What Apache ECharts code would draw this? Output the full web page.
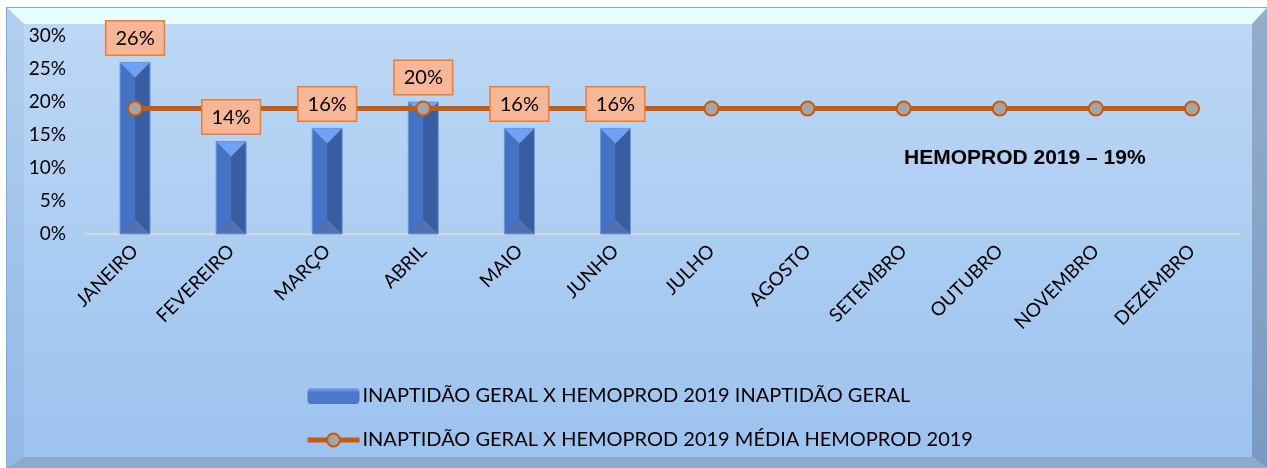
<!DOCTYPE html>
<html>
<head>
<meta charset="utf-8">
<title>Inaptidão geral x Hemoprod 2019</title>
<script src="https://cdn.jsdelivr.net/npm/echarts@6/dist/echarts.min.js"></script>
<style>
  html, body { margin: 0; padding: 0; background: #ffffff; }
  #chart { width: 1267px; height: 468px; }
</style>
</head>
<body>
<div id="chart"></div>
<script>
// dados
var meses = ['JANEIRO', 'FEVEREIRO', 'MARÇO', 'ABRIL', 'MAIO', 'JUNHO', 'JULHO', 'AGOSTO', 'SETEMBRO', 'OUTUBRO', 'NOVEMBRO', 'DEZEMBRO'];
var inaptidao = [26, 14, 16, 20, 16, 16, null, null, null, null, null, null];
var mediaHemoprod = [19, 19, 19, 19, 19, 19, 19, 19, 19, 19, 19, 19];
var nomeBarra = 'INAPTIDÃO GERAL X HEMOPROD 2019 INAPTIDÃO GERAL';
var nomeLinha = 'INAPTIDÃO GERAL X HEMOPROD 2019 MÉDIA HEMOPROD 2019';
var textoMedia = 'HEMOPROD 2019 – 19%';

var W = 1267, H = 468;
var fonte = 'Lato, "Open Sans", sans-serif';

var chart = echarts.init(document.getElementById('chart'));

// moldura chanfrada (estilo Excel)
var moldura = [
  { type: 'rect', shape: { x: 6, y: 7, width: W - 6, height: H - 7 }, style: { fill: '#7ea9db' }, silent: true },
  { type: 'rect', shape: { x: 7, y: 8, width: W - 7, height: H - 8 },
    style: { fill: new echarts.graphic.LinearGradient(0, 0, 0, 1, [{ offset: 0, color: '#bdd8f5' }, { offset: 1, color: '#9cc2ef' }]) }, silent: true },
  { type: 'polygon', shape: { points: [[7, 8], [W, 8], [1252, 24], [24, 24]] }, style: { fill: '#e8fdff' }, silent: true },
  { type: 'polygon', shape: { points: [[7, 8], [24, 24], [24, 457], [7, H]] },
    style: { fill: new echarts.graphic.LinearGradient(0, 0, 0, 1, [{ offset: 0, color: '#b2cfee' }, { offset: 1, color: '#93b9e6' }]) }, silent: true },
  { type: 'polygon', shape: { points: [[W, 8], [1252, 24], [1252, 457], [W, H]] },
    style: { fill: new echarts.graphic.LinearGradient(0, 0, 0, 1, [{ offset: 0, color: '#93adcb' }, { offset: 1, color: '#7b9ac2' }]) }, silent: true },
  { type: 'polygon', shape: { points: [[7, H], [24, 457], [1252, 457], [W, H]] }, style: { fill: '#8eaacb' }, silent: true },
  { type: 'text', left: 904, top: 148, style: { text: textoMedia, font: 'bold 21px "Liberation Sans", Arial, sans-serif', fill: '#000' }, z: 10 }
];

var corBarra = new echarts.graphic.LinearGradient(0, 0, 1, 0, [
  { offset: 0, color: '#4472c4' }, { offset: 0.5, color: '#4472c4' },
  { offset: 0.5, color: '#385da1' }, { offset: 1, color: '#385da1' }
]);

var option = {
  animation: false,
  graphic: moldura,
  grid: { left: 87, right: 27, top: 36, bottom: 234, containLabel: false },
  legend: {
    orient: 'vertical',
    left: 300,
    top: 381,
    itemWidth: 52,
    itemHeight: 16,
    itemGap: 24,
    data: [
      { name: nomeBarra, itemStyle: { color: new echarts.graphic.LinearGradient(0, 0, 0, 1, [{ offset: 0, color: '#7aa6f2' }, { offset: 0.3, color: '#4d77c6' }, { offset: 1, color: '#4d77c6' }]) } },
      { name: nomeLinha, lineStyle: { width: 5 } }
    ],
    textStyle: { fontFamily: fonte, fontSize: 20, color: '#000', padding: [0, 0, 0, -2] }
  },
  xAxis: {
    type: 'category',
    data: meses,
    axisLine: { lineStyle: { color: '#d9d9d9', width: 2 } },
    axisTick: { show: false },
    axisLabel: { rotate: 45, interval: 0, margin: 14, fontFamily: fonte, fontSize: 19, color: '#000' }
  },
  yAxis: {
    type: 'value',
    min: 0,
    max: 30,
    interval: 5,
    axisLine: { show: false },
    axisTick: { show: false },
    splitLine: { show: false },
    axisLabel: { formatter: '{value}%', margin: 21, fontFamily: fonte, fontSize: 19, color: '#000' }
  },
  series: [
    {
      name: nomeBarra,
      type: 'bar',
      data: inaptidao,
      barWidth: 30,
      z: 2,
      itemStyle: { color: corBarra }
    },
    {
      // chanfro das colunas
      type: 'custom',
      data: inaptidao.map(function (v, i) { return [i, v]; }),
      z: 3,
      silent: true,
      renderItem: function (params, api) {
        if (api.value(1) == null || isNaN(api.value(1))) return;
        var topo = api.coord([api.value(0), api.value(1)]);
        var base = api.coord([api.value(0), 0]);
        var x = topo[0], t = topo[1], b = base[1], l = x - 15, r = x + 15, d = 15;
        return {
          type: 'group',
          children: [
            { type: 'polygon', shape: { points: [[l, t], [r, t], [x, t + d]] }, style: { fill: '#6fa2f5' } },
            { type: 'polygon', shape: { points: [[l, b], [r, b], [x, b - d]] }, style: { fill: '#5070b0' } },
            { type: 'rect', shape: { x: l, y: t, width: 30, height: b - t }, style: { fill: 'none', stroke: '#6a97e0', lineWidth: 1 } }
          ]
        };
      }
    },
    {
      name: nomeLinha,
      type: 'line',
      data: mediaHemoprod,
      z: 4,
      symbol: 'circle',
      symbolSize: 14,
      lineStyle: { color: '#c55a11', width: 5 },
      itemStyle: { color: '#a5a5a5', borderColor: '#c55a11', borderWidth: 2 }
    },
    {
      // rótulos dos valores
      type: 'bar',
      data: inaptidao,
      barWidth: 30,
      barGap: '-100%',
      z: 6,
      silent: true,
      itemStyle: { color: 'rgba(0,0,0,0)' },
      label: {
        show: true,
        position: 'top',
        distance: 8,
        formatter: '{c}%',
        fontFamily: fonte,
        fontSize: 20,
        color: '#000',
        backgroundColor: '#f7b796',
        borderColor: '#ed7d31',
        borderWidth: 1.5,
        padding: [7, 9, 6, 9]
      }
    }
  ]
};

chart.setOption(option);
</script>
</body>
</html>
